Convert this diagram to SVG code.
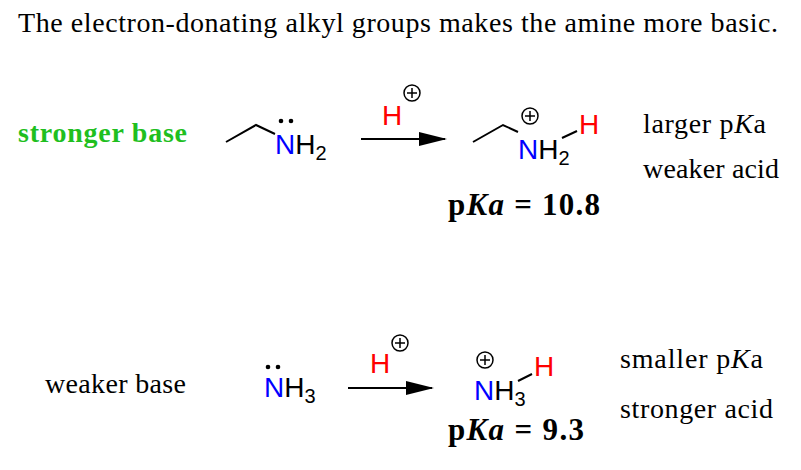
<svg xmlns="http://www.w3.org/2000/svg" width="801" height="470" viewBox="0 0 801 470">
<style>
.t{font-family:"Liberation Serif",serif;font-size:28px;fill:#000}
.a{font-family:"Liberation Sans",sans-serif;font-size:28px}
.s{font-size:20px}
.k{font-weight:bold;font-size:31px}
.b{fill:blue}.r{fill:red}
.ln{stroke:#000;stroke-width:2;fill:none}
.pc{stroke:#000;stroke-width:1.5;fill:#fff}
</style>
<defs><marker id="ah" markerWidth="28" markerHeight="14" refX="26" refY="7" orient="auto" markerUnits="userSpaceOnUse"><path d="M0,0 L28,7 L0,14 Z" fill="#000"/></marker>
<g id="plus"><circle r="8" class="pc"/><path d="M-5,0H5M0,-5V5" stroke="#000" stroke-width="1.5"/></g></defs>
<text class="t" x="18" y="32" textLength="760">The electron-donating alkyl groups makes the amine more basic.</text>
<g id="top-base"><text class="t" x="18" y="142" font-weight="bold" style="fill:#1fbf1f" textLength="169">stronger base</text></g>
<g id="ethylamine"><path class="ln" d="M226,142L256,125L275,134"/><circle cx="281" cy="121" r="2.3"/><circle cx="291" cy="121" r="2.3"/><text class="a" x="275" y="154"><tspan class="b">N</tspan>H<tspan class="s" dy="6">2</tspan></text></g>
<g id="hplus1"><text class="a r" x="382" y="125">H</text><use href="#plus" x="412" y="93"/></g>
<g id="ethylammonium"><path class="ln" d="M473,142L503,125L518,132"/><use href="#plus" x="530" y="116"/><text class="a" x="518" y="159"><tspan class="b">N</tspan>H<tspan class="s" dy="6">2</tspan></text><path class="ln" d="M562,138L577,131"/><text class="a r" x="579" y="134">H</text><text class="t k" x="448" y="215" textLength="152">p<tspan font-style="italic">Ka</tspan> = 10.8</text></g>
<g id="top-labels"><text class="t" x="643" y="133" textLength="123">larger p<tspan font-style="italic">K</tspan>a</text><text class="t" x="643" y="178" textLength="136">weaker acid</text></g>
<g id="bot-base"><text class="t" x="45" y="393" textLength="141">weaker base</text></g>
<g id="ammonia"><circle cx="268" cy="367" r="2.3"/><circle cx="278" cy="367" r="2.3"/><text class="a" x="264" y="397"><tspan class="b">N</tspan>H<tspan class="s" dy="6">3</tspan></text></g>
<g id="hplus2"><text class="a r" x="370" y="373">H</text><use href="#plus" x="400" y="343"/></g>
<g id="ammonium"><use href="#plus" x="485" y="360"/><text class="a" x="474" y="400"><tspan class="b">N</tspan>H<tspan class="s" dy="6">3</tspan></text><path class="ln" d="M518,381L532,374"/><text class="a r" x="534" y="376">H</text><text class="t k" x="448" y="440" textLength="136">p<tspan font-style="italic">Ka</tspan> = 9.3</text></g>
<g id="bot-labels"><text class="t" x="620" y="368" textLength="143">smaller p<tspan font-style="italic">K</tspan>a</text><text class="t" x="620" y="418" textLength="153">stronger acid</text></g>
<g id="connectors"><path class="ln" d="M361,139H445" marker-end="url(#ah)"/><path class="ln" d="M348,388H432" marker-end="url(#ah)"/></g>
</svg>
